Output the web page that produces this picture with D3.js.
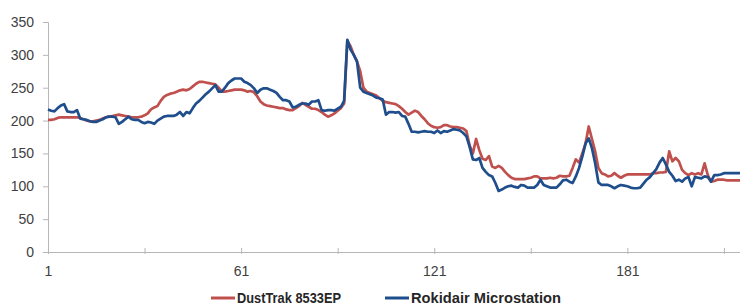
<!DOCTYPE html>
<html>
<head>
<meta charset="utf-8">
<script src="https://cdn.jsdelivr.net/npm/d3@7"></script>
<style>
  html, body { margin: 0; padding: 0; background: #fff; }
  svg { display: block; font-family: "Liberation Sans", Arial, sans-serif; }
</style>
</head>
<body>
<svg id="chart" width="740" height="307"></svg>
<script>
// series names
var seriesNames = ["DustTrak 8533EP", "Rokidair Microstation"];

// DustTrak 8533EP, samples 1..216
var dustTrak = [
  201, 201, 202, 204, 205, 205, 205, 205, 205, 205,
  204, 202, 200, 199, 199, 200, 201, 203, 205, 206,
  207, 208, 209, 208, 207, 206, 205, 205, 205, 206,
  208, 211, 217, 220, 222, 230, 236, 239, 241, 242,
  244, 246, 247, 246, 248, 252, 256, 259, 259, 258,
  257, 256, 255, 250, 244, 244, 245, 246, 247, 247,
  247, 246, 244, 245, 243, 237, 229, 225, 223, 222,
  221, 220, 219, 219, 217, 216, 216, 219, 222, 227,
  224, 221, 218, 218, 216, 213, 209, 206, 208, 211,
  215, 219, 226, 321, 313, 300, 290, 275, 250, 244,
  242, 240, 238, 234, 230, 228, 227, 226, 225, 222,
  218, 213, 209, 212, 215, 213, 207, 202, 196, 192,
  190, 189, 190, 193, 193, 191, 190, 190, 189, 188,
  184, 162, 150, 172, 155, 142, 140, 146, 130, 128,
  131, 128, 122, 117, 113, 111, 111, 111, 111, 112,
  113, 115, 115, 112, 112, 112, 113, 112, 113, 116,
  115, 115, 116, 128, 141, 136, 150, 165, 191, 172,
  153, 128, 120, 118, 115, 116, 120, 116, 113, 116,
  118, 118, 118, 118, 118, 118, 118, 118, 120, 120,
  121, 121, 122, 153, 138, 143, 138, 125, 120, 117,
  120, 118, 120, 118, 135, 117, 107, 108, 110, 110,
  110, 109, 109, 109, 109, 109
];

// Rokidair Microstation, samples 1..216
var rokidair = [
  217, 215, 214, 219, 223, 225, 214, 213, 213, 216,
  203, 202, 201, 199, 198, 198, 200, 202, 205, 206,
  206, 205, 195, 198, 202, 206, 202, 201, 201, 198,
  196, 198, 197, 195, 200, 203, 206, 207, 207, 207,
  209, 213, 207, 213, 211, 219, 226, 230, 235, 240,
  244, 249, 254, 244, 244, 250, 257, 261, 264, 264,
  264, 259, 257, 254, 249, 242, 247, 249, 249, 247,
  245, 242, 236, 231, 231, 229, 220, 221, 224, 226,
  226, 224, 229, 229, 231, 216, 215, 216, 216, 215,
  218, 221, 230, 323, 308, 300, 290, 250, 244, 242,
  240, 238, 235, 234, 232, 209, 213, 213, 212, 213,
  207, 206, 195, 183, 183, 182, 183, 184, 183, 183,
  181, 185, 181, 184, 183, 185, 187, 186, 185, 181,
  176, 160, 141, 140, 143, 128, 122, 117, 115, 105,
  93, 95, 98, 100, 101, 99, 98, 102, 101, 98,
  98, 98, 102, 110, 102, 100, 98, 98, 98, 103,
  109, 110, 107, 105, 115, 128, 145, 165, 173, 158,
  135, 106, 102, 102, 102, 100, 97, 100, 102, 101,
  100, 98, 97, 97, 98, 104, 110, 114, 120, 126,
  136, 143, 133, 122, 116, 108, 110, 107, 112, 114,
  100, 114, 113, 112, 115, 114, 107, 117, 117, 118,
  120, 120, 120, 120, 120, 120
];

var yTicks = [0, 50, 100, 150, 200, 250, 300, 350];
var xLabels = [1, 61, 121, 181];

var colors = ["#c0504d", "#1f4e8c"];

var svg = d3.select("#chart"),
  margin = { top: 22, right: 0, bottom: 55, left: 48 },
  width = +svg.attr("width"),
  height = +svg.attr("height"),
  innerH = height - margin.top - margin.bottom;

var categories = d3.range(1, dustTrak.length + 1);

var x = d3.scalePoint()
  .domain(categories)
  .range([margin.left, width - margin.right]);

var y = d3.scaleLinear()
  .domain([0, 350])
  .range([margin.top + innerH, margin.top]);

// y axis
var yAxis = svg.append("g")
  .attr("transform", "translate(" + margin.left + ",0)")
  .call(d3.axisLeft(y).tickValues(yTicks).tickSize(5).tickPadding(9));
yAxis.select(".domain").attr("stroke", "#b7b7b7");
yAxis.selectAll(".tick line").attr("stroke", "#b7b7b7");
yAxis.selectAll("text").attr("fill", "#404040").style("font-size", "14px");

// x axis, tick every 30 samples, label every 60
var xAxis = svg.append("g")
  .attr("transform", "translate(0," + y(0) + ")")
  .call(d3.axisBottom(x)
    .tickValues(categories.filter(function (d) { return (d - 1) % 30 === 0; }))
    .tickSize(0)
    .tickPadding(14)
    .tickFormat(function (d) { return xLabels.indexOf(d) >= 0 ? d : ""; }));
xAxis.select(".domain").attr("stroke", "#b7b7b7");
xAxis.selectAll(".tick line").attr("stroke", "#b7b7b7").attr("y1", -4).attr("y2", 2);
xAxis.selectAll("text").attr("fill", "#404040").style("font-size", "14px");

// lines
var line = d3.line()
  .x(function (d, i) { return x(categories[i]); })
  .y(function (d) { return y(d); });

[dustTrak, rokidair].forEach(function (s, k) {
  svg.append("path")
    .datum(s)
    .attr("fill", "none")
    .attr("stroke", colors[k])
    .attr("stroke-width", 2.7)
    .attr("stroke-linejoin", "round")
    .attr("d", line);
});

// legend (text squeezed a little, the original uses a narrow face)
var legendX = [211, 385];
var legendW = [104, 150];
var legend = svg.append("g")
  .selectAll("g")
  .data(seriesNames)
  .enter()
  .append("g")
  .attr("transform", function (d, i) { return "translate(" + legendX[i] + ",298)"; });

legend.append("line")
  .attr("x1", 0).attr("x2", 24)
  .attr("stroke", function (d, i) { return colors[i]; })
  .attr("stroke-width", 3);

legend.append("text")
  .attr("x", 26)
  .attr("dy", "0.35em")
  .attr("fill", "#262626")
  .attr("textLength", function (d, i) { return legendW[i]; })
  .attr("lengthAdjust", "spacingAndGlyphs")
  .style("font-weight", "bold")
  .style("font-size", "14px")
  .text(function (d) { return d; });
</script>
</body>
</html>
